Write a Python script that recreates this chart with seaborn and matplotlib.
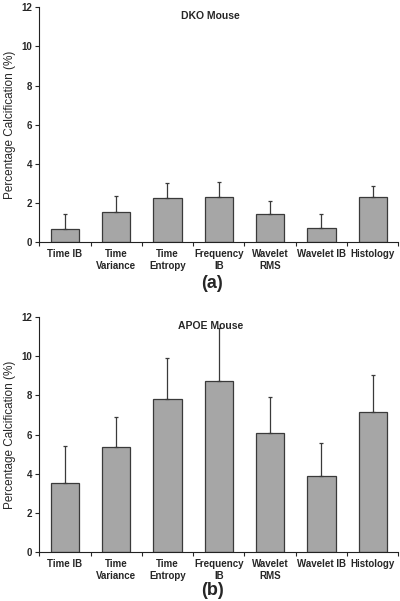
import numpy as np
import pandas as pd
import matplotlib
matplotlib.use('Agg')
import matplotlib.pyplot as plt
import seaborn as sns

categories = ["Time IB", "Time\nVariance", "Time\nEntropy", "Frequency\nIB",
              "Wavelet\nRMS", "Wavelet IB", "Histology"]
dko_mean = [0.66, 1.56, 2.25, 2.30, 1.45, 0.73, 2.33]
dko_upper = [1.43, 2.37, 3.00, 3.05, 2.08, 1.43, 2.85]
apoe_mean = [3.54, 5.35, 7.81, 8.75, 6.08, 3.90, 7.13]
apoe_upper = [5.42, 6.88, 9.93, 11.42, 7.92, 5.58, 9.04]

sns.set_style("ticks")
plt.rcParams['font.family'] = ['Liberation Sans', 'DejaVu Sans']

fig = plt.figure(figsize=(4.0, 6.01), dpi=100)
panels = [
    ("DKO Mouse", "(a)", dko_mean, dko_upper, [0.098, 0.597, 0.898, 0.391], 0.528),
    ("APOE Mouse", "(b)", apoe_mean, apoe_upper, [0.098, 0.0815, 0.898, 0.391], 0.017),
]

for title, tag, means, upper, rect, tag_y in panels:
    ax = fig.add_axes(rect)
    df = pd.DataFrame({"Method": categories, "Value": means})
    sns.barplot(data=df, x="Method", y="Value", color="#a6a6a6", width=0.55,
                edgecolor="#3a3a3a", linewidth=0.9, saturation=1, ax=ax)
    err = np.array(upper) - np.array(means)
    ax.errorbar(np.arange(len(categories)), means, yerr=[np.zeros(len(err)), err],
                fmt='none', ecolor="#3a3a3a", elinewidth=0.9, capsize=1.2, capthick=0.9)
    ax.set_xlim(-0.5, len(categories) - 0.5)
    ax.set_ylim(0, 12)
    ax.set_yticks(range(0, 13, 2))
    ax.set_yticklabels([str(v) for v in range(0, 13, 2)], fontsize=7, fontweight='bold')
    ax.set_xticks(np.arange(-0.5, len(categories), 1.0))
    ax.set_xticklabels([])
    ax.tick_params(axis='x', length=3, width=0.8, direction='out')
    ax.tick_params(axis='y', length=3, width=0.8, direction='out', pad=2)
    for i, lab in enumerate(categories):
        ax.text(i, -0.36, lab, ha='center', va='top', fontsize=7, fontweight='bold',
                linespacing=1.25)
    ax.set_xlabel("")
    ax.set_ylabel("Percentage Calcification (%)", fontsize=8.5, labelpad=4)
    ax.text(0.476, 0.985, title, transform=ax.transAxes, ha='center', va='top',
            fontsize=7.5, fontweight='bold')
    sns.despine(ax=ax)
    for sp in ax.spines.values():
        sp.set_linewidth(0.8)
        sp.set_color("#222222")
    fig.text(0.53, tag_y, tag, ha='center', va='center', fontsize=13, fontweight='bold')

fig.savefig("out.png", dpi=100)
plt.close(fig)
